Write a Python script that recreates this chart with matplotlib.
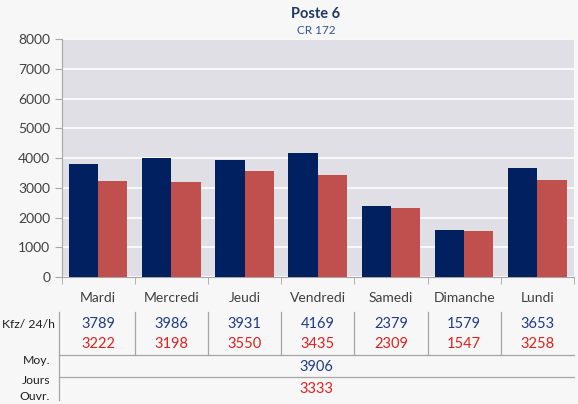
import numpy as np
import matplotlib.pyplot as plt
from matplotlib.transforms import blended_transform_factory

plt.rcParams['font.family'] = ['Lato', 'DejaVu Sans']

days = ['Mardi', 'Mercredi', 'Jeudi', 'Vendredi', 'Samedi', 'Dimanche', 'Lundi']
serie_a = [3789, 3986, 3931, 4169, 2379, 1579, 3653]
serie_b = [3222, 3198, 3550, 3435, 2309, 1547, 3258]
moy_a = 3906
moy_b = 3333
y_ticks = [0, 1000, 2000, 3000, 4000, 5000, 6000, 7000, 8000]

W, H = 578, 404
blue = '#002060'
red = '#c0504d'
txt_blue = '#1f3c88'
txt_red = '#e0201f'
grey = '#a6a6a6'

fig = plt.figure(figsize=(W / 100, H / 100), dpi=100, facecolor='#f7f7f7')

# plot area in pixels
x0, x1, y_top, y_bot = 61.5, 574, 39, 277
ax = fig.add_axes([x0 / W, 1 - y_bot / H, (x1 - x0) / W, (y_bot - y_top) / H])
ax.set_facecolor('#e0dfe5')

x = np.arange(len(days))
w = 0.4
ax.bar(x - w / 2, serie_a, w, color=blue, zorder=3)
ax.bar(x + w / 2, serie_b, w, color=red, zorder=3)

ax.set_xlim(-0.5, len(days) - 0.5)
ax.set_ylim(0, 8000)
ax.set_yticks(y_ticks)
ax.yaxis.grid(True, color='white', linewidth=1.2, zorder=0)
ax.tick_params(axis='y', direction='out', length=5, color=grey, labelsize=10, labelcolor='#404040', pad=3)

ax.set_xticks(x)
ax.set_xticklabels(days)
ax.set_xticks(np.arange(len(days) + 1) - 0.5, minor=True)
ax.tick_params(axis='x', which='major', length=0, labelsize=10, labelcolor='#404040', pad=11)
ax.tick_params(axis='x', which='minor', direction='out', length=5, color=grey)

for s in ['top', 'right']:
    ax.spines[s].set_visible(False)
for s in ['left', 'bottom']:
    ax.spines[s].set_color(grey)

fig.text(316 / W, 1 - 14 / H, 'Poste 6', ha='center', va='center', fontsize=10.5,
         fontweight='bold', color='#1f3864')
fig.text(316 / W, 1 - 31 / H, 'CR 172', ha='center', va='center', fontsize=8.5, color='#2f5597')

# table below the chart, x in data units, y in pixels
ov = fig.add_axes([0, 0, 1, 1], facecolor='none')
ov.set_xlim(0, W)
ov.set_ylim(H, 0)
ov.axis('off')
tr = blended_transform_factory(ax.transData, ov.transData)

row_a, row_b = 324, 344
for i in range(len(days)):
    ov.text(x[i], row_a, str(serie_a[i]), transform=tr, ha='center', va='center',
            fontsize=10.5, color=txt_blue)
    ov.text(x[i], row_b, str(serie_b[i]), transform=tr, ha='center', va='center',
            fontsize=10.5, color=txt_red)
for b in np.arange(1, len(days)) - 0.5:
    ov.plot([b, b], [312, 355], transform=tr, color=grey, linewidth=0.9)

ov.plot([59, 59], [312, 400], color=grey, linewidth=0.9)
ov.plot([59, x1], [355, 355], color=grey, linewidth=0.9)
ov.plot([59, x1], [377, 377], color=grey, linewidth=0.9)

ov.text(55, row_a, 'Kfz/ 24/h', ha='right', va='center', fontsize=8.8, color='#202020')
ov.text(50, 361, 'Moy.', ha='right', va='center', fontsize=8.8, color='#202020')
ov.text(50, 380, 'Jours', ha='right', va='center', fontsize=8.8, color='#202020')
ov.text(50, 397, 'Ouvr.', ha='right', va='center', fontsize=8.8, color='#202020')

xc = (59 + x1) / 2
ov.text(xc, 367, str(moy_a), ha='center', va='center', fontsize=10.5, color=txt_blue)
ov.text(xc, 389, str(moy_b), ha='center', va='center', fontsize=10.5, color=txt_red)

fig.savefig('out.png', dpi=100, facecolor=fig.get_facecolor())
